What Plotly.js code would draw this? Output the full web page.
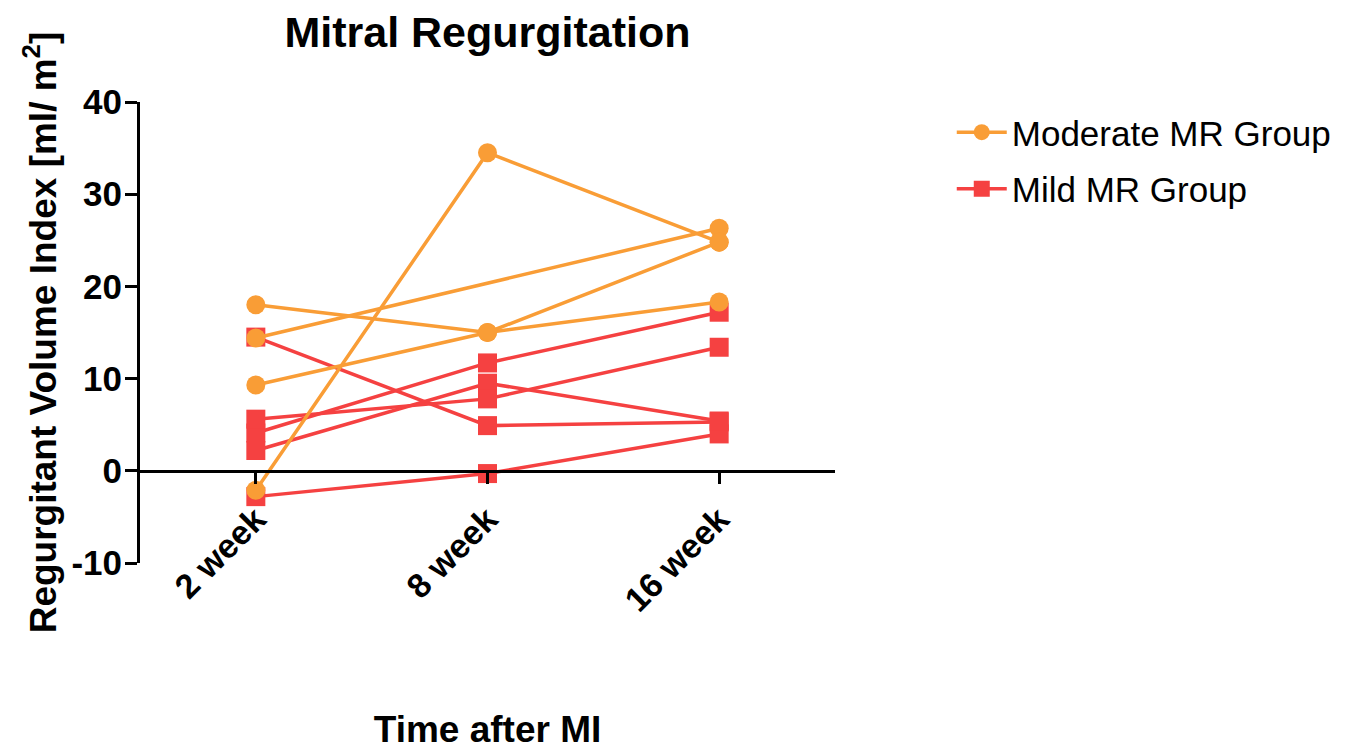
<!DOCTYPE html>
<html>
<head>
<meta charset="utf-8">
<script src="https://cdn.plot.ly/plotly-3.0.1.min.js"></script>
<style>
  html, body { margin: 0; padding: 0; background: #ffffff; }
  #chart { width: 1371px; height: 751px; }
</style>
</head>
<body>
<div id="chart"></div>
<script>
// Categories (time points)
const timepoints = ['2 week', '8 week', '16 week'];

// Moderate MR Group (one array per animal)
const moderateA = [18.0, 15.0, 18.3];
const moderateB = [14.4, null, 26.3];
const moderateC = [9.3, 15.0, 24.8];
const moderateD = [-2.1, 34.5, 24.8];

// Mild MR Group (one array per animal)
const mildA = [14.5, 4.9, 5.3];
const mildB = [-2.8, -0.3, 4.0];
const mildC = [4.1, 11.7, 17.2];
const mildD = [2.2, 9.5, 5.4];
const mildE = [5.6, 7.8, 13.4];

const moderateSeries = [moderateA, moderateB, moderateC, moderateD];
const mildSeries = [mildA, mildB, mildC, mildD, mildE];

const yTicks = [-10, 0, 10, 20, 30, 40];
const yTickLabels = ['-10', '0', '10', '20', '30', '40'];

const ORANGE = '#F99D36';
const RED = '#F54141';
const FONT = '"Liberation Sans", Arial, Helvetica, sans-serif';

const traces = [];
mildSeries.forEach((vals, i) => {
  traces.push({
    x: timepoints, y: vals, type: 'scatter', mode: 'lines+markers',
    name: 'Mild MR Group', legendgroup: 'mild', showlegend: i === 0, legendrank: 2,
    connectgaps: true,
    line: { color: RED, width: 3.5 },
    marker: { symbol: 'square', size: 19, color: RED },
    cliponaxis: false
  });
});
moderateSeries.forEach((vals, i) => {
  traces.push({
    x: timepoints, y: vals, type: 'scatter', mode: 'lines+markers',
    name: 'Moderate MR Group', legendgroup: 'moderate', showlegend: i === 0, legendrank: 1,
    connectgaps: true,
    line: { color: ORANGE, width: 3.5 },
    marker: { symbol: 'circle', size: 19, color: ORANGE },
    cliponaxis: false
  });
});

const layout = {
  width: 1371, height: 751,
  paper_bgcolor: '#ffffff', plot_bgcolor: '#ffffff',
  margin: { l: 140, r: 536, t: 102, b: 188 },
  font: { family: FONT, color: '#000000' },
  title: {
    text: '<b>Mitral Regurgitation</b>',
    font: { family: FONT, size: 43, color: '#000000' },
    x: 0.5, xref: 'paper', xanchor: 'center',
    y: 1 - 32 / 751, yref: 'container', yanchor: 'middle'
  },
  xaxis: {
    type: 'category',
    categoryarray: timepoints, categoryorder: 'array',
    range: [-0.5, 2.5],
    anchor: 'free', position: 0.2,
    showline: true, linecolor: '#000000', linewidth: 3,
    ticks: 'outside', ticklen: 11, tickwidth: 3, tickcolor: '#000000',
    tickangle: -45,
    ticklabelstandoff: 2,
    tickfont: { family: FONT, size: 34, color: '#000000', weight: 'bold' },
    showgrid: false, zeroline: false,
    title: {
      text: '<b>Time after MI</b>',
      font: { family: FONT, size: 37, color: '#000000' },
      standoff: 98
    },
    automargin: false
  },
  yaxis: {
    range: [-10, 40],
    tickvals: yTicks,
    ticktext: yTickLabels,
    showline: true, linecolor: '#000000', linewidth: 3,
    ticks: 'outside', ticklen: 12, tickwidth: 3, tickcolor: '#000000',
    ticklabelstandoff: -4,
    tickfont: { family: FONT, size: 35, color: '#000000', weight: 'bold' },
    showgrid: false, zeroline: false,
    title: {
      text: '<b>Regurgitant Volume Index [ml/ m<sup>2</sup>]</b>',
      font: { family: FONT, size: 37, color: '#000000' },
      standoff: 4
    },
    automargin: false
  },
  showlegend: true,
  legend: {
    x: 1.168, xanchor: 'left',
    y: 0.998, yanchor: 'top',
    traceorder: 'grouped',
    tracegroupgap: 8,
    itemwidth: 50,
    font: { family: FONT, size: 35, color: '#000000' },
    bgcolor: 'rgba(0,0,0,0)'
  }
};

Plotly.newPlot('chart', traces, layout, { displayModeBar: false, staticPlot: true });
</script>
</body>
</html>
